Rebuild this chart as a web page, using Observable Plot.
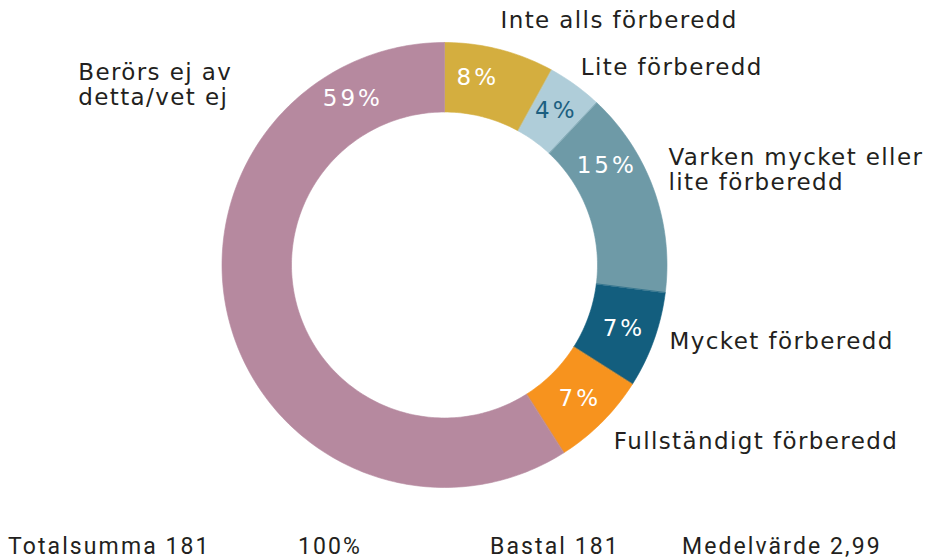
<!DOCTYPE html>
<html><head><meta charset="utf-8">
<script src="https://cdn.jsdelivr.net/npm/d3@7"></script>
<script src="https://cdn.jsdelivr.net/npm/@observablehq/plot@0.6"></script>
<style>
html,body{margin:0;padding:0;background:#fff;}
#wrap{position:relative;width:928px;height:557px;overflow:hidden;background:#fff;}
#wrap svg, #wrap svg text{font-family:"DejaVu Sans",sans-serif !important;}
#footer{position:absolute;left:0;top:528px;width:928px;height:29px;font-family:Roboto,sans-serif;font-size:23px;color:#231f20;letter-spacing:2.1px;overflow:hidden}
#footer span{position:absolute;top:7px;line-height:23px;white-space:nowrap}
</style></head><body><div id="wrap"></div>
<script>
// ---- data ----
const categories = ["Inte alls förberedd", "Lite förberedd", "Varken mycket eller\nlite förberedd", "Mycket förberedd", "Fullständigt förberedd", "Berörs ej av\ndetta/vet ej"];
const values = [8, 4, 15, 7, 7, 59];
const footerTexts = ["Totalsumma 181", "100%", "Bastal 181", "Medelvärde 2,99"];

// ---- styles / layout ----
const sliceColors = ["#d4ae3f", "#afcdd9", "#6e9aa7", "#135e7e", "#f7931e", "#b6899f"];
const pctTextColors = ["#ffffff", "#1c5f80", "#ffffff", "#ffffff", "#ffffff", "#ffffff"];
const pctLabelAt = [2.8, 10, 16.25, 30.4, 37.4, 92];       // position along the ring, in % of total
const catLabelAt = [3.58, 9.6, 18.6, 30.2, 37.8, 82.3];
const catLabelR = [1.128, 1.08, 1.094, 1.068, 1.097, 1.836];
const footerX = [8, 298, 490, 682];

const W = 928, H = 530, CX = 444, CY = 264.5, RPX = 222.5;
const innerR = 153 / RPX, outerR = 1, pctR = 0.855;

const total = d3.sum(values);
const ang = p => p / total * 2 * Math.PI;
let cum = 0;
const slices = values.map((v, i) => { const s = {i, start: cum, end: cum + v}; cum += v; return s; });

function arcPoints(s) {
  const pts = [];
  const n = Math.max(4, Math.ceil((s.end - s.start) * 3));
  for (let k = 0; k <= n; k++) {
    const a = ang(s.start + (s.end - s.start) * k / n);
    pts.push({x: outerR * Math.sin(a), y: outerR * Math.cos(a)});
  }
  for (let k = n; k >= 0; k--) {
    const a = ang(s.start + (s.end - s.start) * k / n);
    pts.push({x: innerR * Math.sin(a), y: innerR * Math.cos(a)});
  }
  return pts;
}

const pctLabels = slices.map((s, i) => {
  const a = ang(pctLabelAt[i]);
  return {x: pctR * Math.sin(a), y: pctR * Math.cos(a), text: `${values[i]}%`, color: pctTextColors[i]};
});
const catLabels = slices.map((s, i) => {
  const a = ang(catLabelAt[i]);
  return {x: catLabelR[i] * Math.sin(a), y: catLabelR[i] * Math.cos(a), text: categories[i]};
});

const chart = Plot.plot({
  width: W, height: H, margin: 0,
  x: {domain: [-CX / RPX, (W - CX) / RPX], axis: null},
  y: {domain: [-(H - CY) / RPX, CY / RPX], axis: null},
  color: {type: "identity"},
  style: {fontFamily: "DejaVu Sans, sans-serif", background: "#fff", overflow: "visible"},
  marks: [
    ...slices.map((s, i) => Plot.line(arcPoints(s), {x: "x", y: "y", fill: sliceColors[i], stroke: sliceColors[i], strokeWidth: 0.6, curve: "linear-closed"})),
    Plot.text(pctLabels, {x: "x", y: "y", text: "text", fill: "color", fontSize: 23, textAnchor: "middle", lineAnchor: "middle"}),
    Plot.text(catLabels, {x: "x", y: "y", text: "text", fill: "#231f20", fontSize: 23, textAnchor: "start", lineAnchor: "middle", lineHeight: 1.1})
  ]
});
// letter spacing to match the wide reference typeface
d3.select(chart).selectAll("text").each(function() {
  const t = this.textContent;
  this.style.letterSpacing = /%$/.test(t) ? "3px" : "1.4px";
});
const wrap = document.getElementById("wrap");
wrap.appendChild(chart);
const footer = document.createElement("div");
footer.id = "footer";
footerTexts.forEach((t, i) => {
  const sp = document.createElement("span");
  sp.textContent = t;
  sp.style.left = footerX[i] + "px";
  footer.appendChild(sp);
});
wrap.appendChild(footer);
</script></body></html>
